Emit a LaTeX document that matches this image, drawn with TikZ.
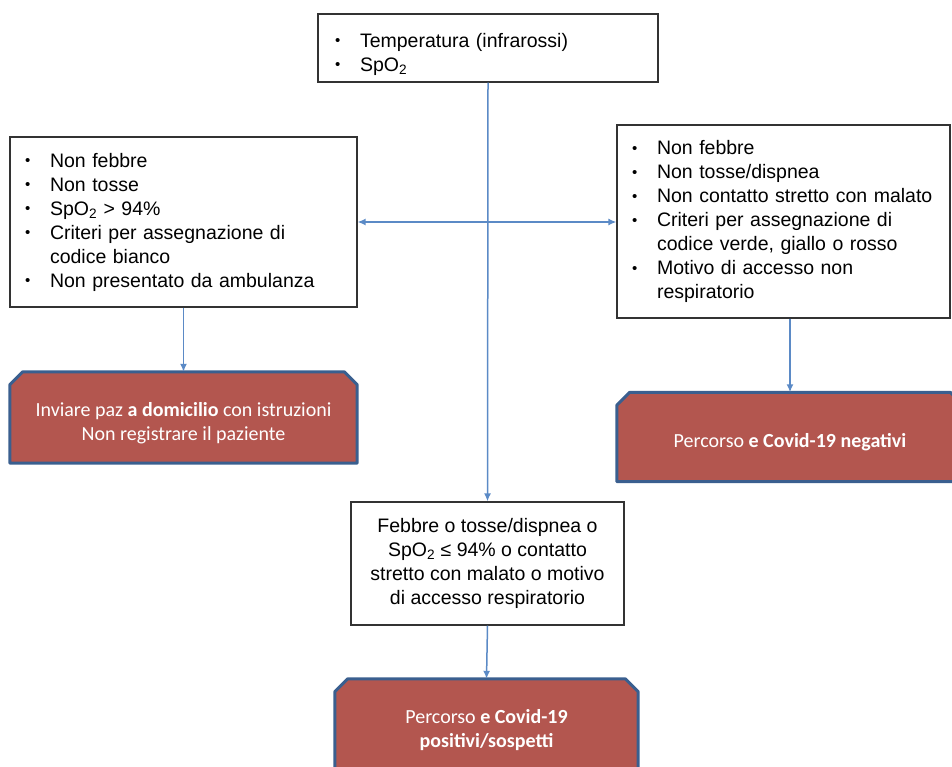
\documentclass[tikz,border=0pt]{standalone}
\usepackage{fontspec}
\setmainfont{Liberation Sans}
\newfontfamily\calibri{Carlito}
\usepackage{tikz}
\usetikzlibrary{arrows.meta, positioning}

\definecolor{linkblue}{HTML}{5B8AC6}
\definecolor{exitred}{HTML}{B3564F}
\definecolor{exitedge}{HTML}{3A5F8F}

\newcommand{\bul}{\makebox[22pt][l]{\hspace{-3pt}\raisebox{1.5pt}{\fontsize{15}{15}\selectfont\textbullet}}}
\newcommand{\cont}{\hspace*{22pt}}

\begin{document}
\begin{tikzpicture}[x=1pt, y=-1pt, >={Latex[length=8pt, width=7pt]}, font=\fontsize{19.5}{24}\selectfont]
	\tikzstyle{check} = [draw=black!80, line width=1.2pt, fill=white, inner xsep=18pt, inner ysep=0pt, align=left]
	\tikzstyle{exit} = [inner sep=0pt]
	\tikzstyle{exitline} = [draw=exitedge, line width=3pt, line join=round, fill=exitred]
	\tikzstyle{exittext} = [text=white, align=center, inner sep=0pt, font=\calibri\fontsize{20}{24}\selectfont]
	\tikzstyle{link} = [linkblue, line width=1.5pt]

	\useasboundingbox (0,0) rectangle (952,767);
	\clip (0,0) rectangle (952,767);

	% checks at the entrance
	\node[check, inner xsep=20pt, text depth=16pt, minimum width=340pt, minimum height=68pt, text width=300pt] (measure) at (488,48)
		{\bul Temperatura (infrarossi)\\ \bul SpO\textsubscript{2}};
	\node[check, minimum width=347pt, minimum height=170pt, text width=311pt] (white) at (183.5,222)
		{\bul Non febbre\\ \bul Non tosse\\ \bul SpO\textsubscript{2} > 94\%\\ \bul Criteri per assegnazione di\\ \cont codice bianco\\ \bul Non presentato da ambulanza};
	\node[check, minimum width=333pt, minimum height=193pt, text width=297pt] (clean) at (783.5,221.5)
		{\bul Non febbre\\ \bul Non tosse/dispnea\\ \bul\mbox{Non contatto stretto con malato}\\ \bul Criteri per assegnazione di\\ \cont codice verde, giallo o rosso\\ \bul Motivo di accesso non\\ \cont respiratorio};
	\node[check, align=center, inner xsep=4pt, minimum width=273pt, minimum height=123pt] (suspect) at (487.5,563.5)
		{Febbre o tosse/dispnea o\\ SpO\textsubscript{2} ≤ 94\% o contatto\\ stretto con malato o motivo\\ di accesso respiratorio};

	% outcomes
	\node[exit, minimum width=347pt, minimum height=91pt] (home) at (183.5,417.5) {};
	\node[exit, minimum width=346pt, minimum height=89pt] (negative) at (790,437) {};
	\node[exit, minimum width=303pt, minimum height=91pt] (positive) at (486.5,724.5) {};
	\foreach \n in {home, negative, positive}
		\path[exitline] (\n.south west) -- ([yshift=-13pt]\n.north west) -- ([xshift=13pt]\n.north west)
			-- ([xshift=-13pt]\n.north east) -- ([yshift=-13pt]\n.north east) -- (\n.south east) -- cycle;
	\node[exittext] (hometext) at (183.5,423)
		{Inviare paz \textbf{a domicilio} con istruzioni\\ Non registrare il paziente};
	\node[exittext] (negativetext) at (790,442)
		{Percorso \textbf{e Covid-19 negativi}};
	\node[exittext] (positivetext) at (486.5,730)
		{Percorso \textbf{e Covid-19}\\ \textbf{positivi/sospetti}};

	\draw[link, ->] (measure.south) -- (suspect.north);
	\draw[link, <->] (white.east) -- (white.east -| clean.west);
	\draw[link, ->] (white.south) -- (home.north);
	\draw[link, ->] (negative.north |- clean.south) -- (negative.north);
	\draw[link, ->] (suspect.south) -- (positive.north);
\end{tikzpicture}
\end{document}
